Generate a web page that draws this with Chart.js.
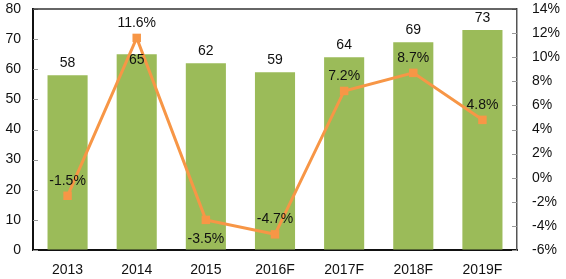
<!DOCTYPE html>
<html>
<head>
<meta charset="utf-8">
<script src="https://cdn.jsdelivr.net/npm/chart.js@4"></script>
<style>
  body { margin: 0; background: #fff; }
  #wrap { width: 566px; height: 279px; }
</style>
</head>
<body>
<div id="wrap"><canvas id="chart"></canvas></div>
<script>
// data
const years = ["2013", "2014", "2015", "2016F", "2017F", "2018F", "2019F"];
const sales = [58, 65, 62, 59, 64, 69, 73];
const growth = [-1.5, 11.6, -3.5, -4.7, 7.2, 8.7, 4.8];
const leftTicks = [0, 80, 10];
const rightTicks = [-6, 14, 2];

// where the value labels go
const barLabelPos = ["top", "inside", "top", "top", "top", "top", "top"];
const lineLabelPos = ["above", "above", "below", "above", "above", "above", "above"];

const FONT = "'Liberation Sans', Arial, sans-serif";

const labelsPlugin = {
    id: "valueLabels",
    afterDatasetsDraw(chart) {
        const ctx = chart.ctx;
        const a = chart.chartArea;
        ctx.save();

        // small ticks pointing into the plot on both value axes
        ctx.strokeStyle = "#999";
        ctx.lineWidth = 1;
        chart.scales.y.ticks.forEach(t => {
            const y = Math.round(chart.scales.y.getPixelForValue(t.value)) + 0.5;
            ctx.beginPath();
            ctx.moveTo(a.left, y);
            ctx.lineTo(a.left + 5, y);
            ctx.stroke();
        });
        chart.scales.y1.ticks.forEach(t => {
            const y = Math.round(chart.scales.y1.getPixelForValue(t.value)) + 0.5;
            ctx.beginPath();
            ctx.moveTo(a.right, y);
            ctx.lineTo(a.right - 5, y);
            ctx.stroke();
        });

        // top border of the plot box
        ctx.strokeStyle = "#333";
        ctx.lineWidth = 1.5;
        ctx.beginPath();
        ctx.moveTo(a.left, a.top);
        ctx.lineTo(a.right, a.top);
        ctx.stroke();

        ctx.font = "14px " + FONT;
        ctx.fillStyle = "#111";
        ctx.textAlign = "center";
        ctx.textBaseline = "middle";

        chart.getDatasetMeta(1).data.forEach((bar, i) => {
            const y = barLabelPos[i] === "inside" ? bar.y + 6 : bar.y - 12;
            ctx.fillText(sales[i], bar.x, y);
        });
        chart.getDatasetMeta(0).data.forEach((pt, i) => {
            const y = lineLabelPos[i] === "below" ? pt.y + 19 : pt.y - 15;
            ctx.fillText(growth[i].toFixed(1) + "%", pt.x, y);
        });
        ctx.restore();
    }
};

const noPad = s => { s.paddingTop = 0; s.paddingBottom = 0; s.paddingLeft = 0; s.paddingRight = 0; };

new Chart(document.getElementById("chart"), {
    data: {
        labels: years,
        datasets: [
            {
                type: "line",
                data: growth,
                yAxisID: "y1",
                borderColor: "#F79646",
                backgroundColor: "#F79646",
                borderWidth: 3,
                pointStyle: "rect",
                pointRadius: 6,
                pointBorderWidth: 0,
                order: 0
            },
            {
                type: "bar",
                data: sales,
                yAxisID: "y",
                backgroundColor: "#9BBB59",
                barPercentage: 0.58,
                categoryPercentage: 1,
                order: 1
            }
        ]
    },
    options: {
        responsive: true,
        maintainAspectRatio: false,
        animation: false,
        layout: { padding: { top: 9 } },
        plugins: {
            legend: { display: false },
            tooltip: { enabled: false }
        },
        scales: {
            x: {
                offset: true,
                grid: { display: false },
                border: { color: "#111", width: 2 },
                ticks: { color: "#111", font: { size: 14, family: FONT }, padding: 4 },
                afterFit: s => { noPad(s); s.height = 29; }
            },
            y: {
                position: "left",
                min: leftTicks[0],
                max: leftTicks[1],
                ticks: { stepSize: leftTicks[2], color: "#111", font: { size: 14, family: FONT }, padding: 12 },
                grid: { drawOnChartArea: false, drawTicks: false },
                border: { color: "#111", width: 2 },
                afterFit: s => { noPad(s); s.width = 33; }
            },
            y1: {
                position: "right",
                min: rightTicks[0],
                max: rightTicks[1],
                ticks: {
                    stepSize: rightTicks[2],
                    color: "#111",
                    font: { size: 14, family: FONT },
                    padding: 15,
                    callback: v => v + "%"
                },
                grid: { drawOnChartArea: false, drawTicks: false },
                border: { color: "#555", width: 1.5 },
                afterFit: s => { noPad(s); s.width = 49; }
            }
        }
    },
    plugins: [labelsPlugin]
});
</script>
</body>
</html>
